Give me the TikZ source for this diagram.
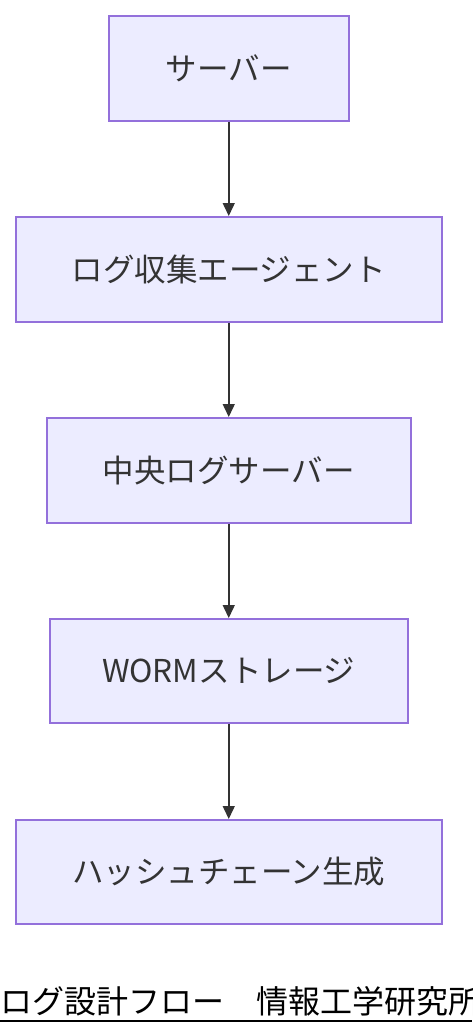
\documentclass[tikz,border=0pt]{standalone}
\usepackage{fontspec}
\setmainfont{Noto Sans CJK JP}
\usetikzlibrary{arrows.meta}
\definecolor{boxfill}{HTML}{ECECFF}
\definecolor{boxline}{HTML}{9370DB}
\definecolor{txt}{HTML}{333333}
\tikzset{
  flowbox/.style={draw=boxline, fill=boxfill, line width=1.5pt, text=txt,
    font=\fontsize{31.5}{36}\selectfont, inner sep=0pt, anchor=north west},
  flowarrow/.style={draw=txt, line width=1.5pt, -{Triangle[width=12pt,length=13pt]}}
}
\begin{document}
\begin{tikzpicture}[x=1pt,y=1pt]
\useasboundingbox (0,0) rectangle (472,-1036);
\node[flowbox, minimum width=240pt, minimum height=105pt] (a) at (108,-15) {サーバー};
\node[flowbox, minimum width=426pt, minimum height=105pt] (b) at (15,-216) {ログ収集エージェント};
\node[flowbox, minimum width=364pt, minimum height=105pt] (c) at (46,-417) {中央ログサーバー};
\node[flowbox, minimum width=358pt, minimum height=104pt] (d) at (49,-618) {WORMストレージ};
\node[flowbox, minimum width=426pt, minimum height=104pt] (e) at (15,-819) {ハッシュチェーン生成};
\draw[flowarrow] (a.south) -- (b.north);
\draw[flowarrow] (b.south) -- (c.north);
\draw[flowarrow] (c.south) -- (d.north);
\draw[flowarrow] (d.south) -- (e.north);
\node[anchor=base west, inner sep=0pt, font=\fontsize{32}{36}\selectfont] (cap) at (0,-1013) {ログ設計フロー　情報工学研究所};
\draw[line width=2pt] (0,-1021) -- (472,-1021);
\end{tikzpicture}
\end{document}
